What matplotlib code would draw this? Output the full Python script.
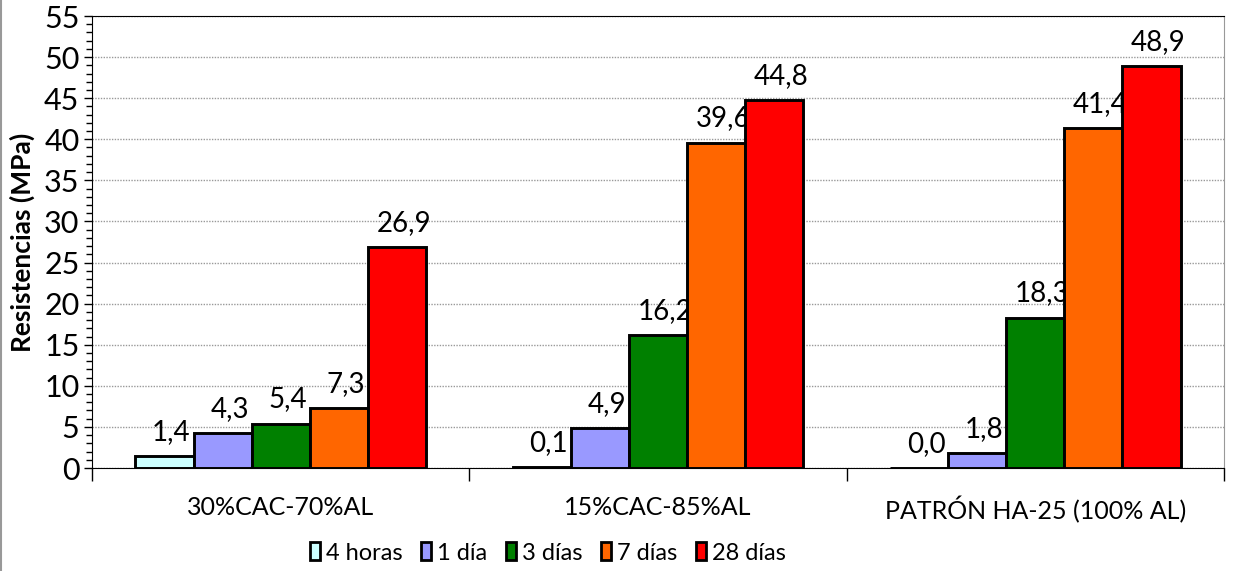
import numpy as np
import matplotlib.pyplot as plt
from matplotlib.lines import Line2D
from matplotlib.patches import Patch

plt.rcParams['font.family'] = ['Lato', 'DejaVu Sans']

grupos = ['30%CAC-70%AL', '15%CAC-85%AL', 'PATRÓN HA-25 (100% AL)']
series = ['4 horas', '1 día', '3 días', '7 días', '28 días']
colores = ['#CCFFFF', '#9999FF', '#008000', '#FF6600', '#FF0000']
valores = [
    [1.4, 0.1, 0.0],     # 4 horas
    [4.3, 4.9, 1.8],     # 1 día
    [5.4, 16.2, 18.3],   # 3 días
    [7.3, 39.6, 41.4],   # 7 días
    [26.9, 44.8, 48.9],  # 28 días
]

fig = plt.figure(figsize=(12.35, 5.71), dpi=100)
ax = fig.add_axes([92/1235, 1-468/571, (1224-92)/1235, (468-16)/571])

x = np.arange(len(grupos))
w = 0.154
for i, (s, c, v) in enumerate(zip(series, colores, valores)):
    pos = x + (i - 2) * w
    ax.bar(pos, v, width=w, color=c, edgecolor='black', linewidth=2.1, zorder=3)
    for p, val in zip(pos, v):
        ax.annotate(f'{val:.1f}'.replace('.', ','), (p, val), xytext=(5, 8),
                    textcoords='offset points', ha='center', va='bottom', fontsize=20)

ax.set_xlim(-0.5, 2.5)
ax.set_ylim(0, 55)
ax.set_yticks(np.arange(0, 56, 5))
ax.set_yticks(np.arange(0, 56, 1), minor=True)
ax.tick_params(axis='y', which='major', labelsize=22, length=6, width=1, pad=3)
ax.tick_params(axis='y', which='minor', length=4, width=1)
ax.set_xticks(x)
ax.set_xticklabels(grupos, fontsize=18)
ax.tick_params(axis='x', which='major', length=0, pad=20)
ax.set_xticks([-0.5, 0.5, 1.5, 2.5], minor=True)
ax.tick_params(axis='x', which='minor', length=9, width=1)
ax.grid(axis='y', which='major', linestyle=(0, (1, 1)), color='#999999', linewidth=1, zorder=0)
ax.set_ylabel('Resistencias (MPa)', fontsize=19, fontweight='bold')
ax.yaxis.set_label_coords(-0.05, 0.5)
ax.spines['right'].set_color('#999999')

handles = [Patch(facecolor=c, edgecolor='black', linewidth=2) for c in colores]
fig.legend(handles, series, loc='center', bbox_to_anchor=(548/1235, 1-553/571), ncol=5,
           frameon=False, fontsize=17, handlelength=0.42, handleheight=0.8,
           handletextpad=0.25, columnspacing=0.8)

fig.add_artist(Line2D([0.001, 0.001], [0, 1], color='#999999', linewidth=1.5))

fig.savefig('out.png', dpi=100)
